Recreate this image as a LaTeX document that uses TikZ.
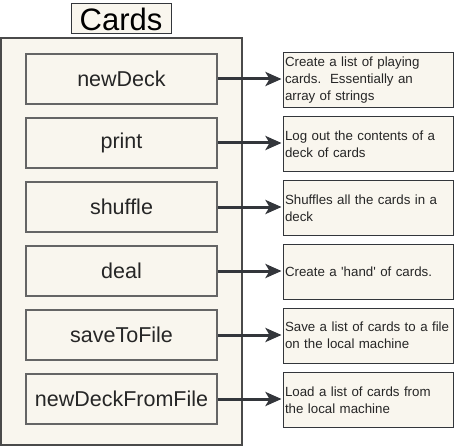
\documentclass[tikz,border=0pt]{standalone}
\usepackage{fontspec}
\setmainfont{Liberation Sans}
\usetikzlibrary{arrows.meta}
\definecolor{cream}{HTML}{F9F6EE}
\definecolor{edge}{HTML}{4A4A4A}
\definecolor{ink}{HTML}{33363B}
\tikzset{
  titlebox/.style={draw=ink, line width=1pt, fill=cream, minimum width=100pt, minimum height=30pt,
    inner sep=0pt, font=\fontsize{31}{32}\selectfont},
  container/.style={draw=edge, line width=2pt, fill=cream, minimum width=241pt, minimum height=406pt, inner sep=0pt},
  method/.style={draw=edge!85, line width=2pt, fill=cream, minimum width=191pt, minimum height=50pt,
    inner sep=0pt, font=\fontsize{21.5}{24}\selectfont, text=black!85},
  note/.style={draw=ink, line width=1pt, fill=cream, minimum height=55pt, text width=166pt,
    inner xsep=2pt, inner ysep=0pt, align=left, font=\fontsize{13.3}{16.8}\selectfont, text=black!85},
  link/.style={draw=ink, line width=3pt, -{Stealth[length=16pt,width=14pt,inset=4pt]}, shorten >=1pt},
}
\begin{document}
\begin{tikzpicture}[x=1pt,y=-1pt]
  \useasboundingbox (0,0) rectangle (454,446);
  \node[titlebox] (title) at (121,19) {Cards};
  \node[container] (box) at (121.5,241.5) {};
  % methods of the Cards type
  \node[method] (m1) at (121.5,79)  {newDeck};
  \node[method] (m2) at (121.5,143) {print};
  \node[method] (m3) at (121.5,207) {shuffle};
  \node[method] (m4) at (121.5,271) {deal};
  \node[method] (m5) at (121.5,335) {saveToFile};
  \node[method] (m6) at (121.5,399) {newDeckFromFile};
  % descriptions
  \node[note] (d1) at (368,80)    {Create a list of playing\\cards.\ \ Essentially an\\array of strings};
  \node[note] (d2) at (368,144.5) {Log out the contents of a\\deck of cards};
  \node[note] (d3) at (368,208)   {Shuffles all the cards in a\\deck};
  \node[note] (d4) at (368,271.5) {Create a \textquotesingle hand\textquotesingle{} of cards.};
  \node[note] (d5) at (368,335.5) {Save a list of cards to a file\\on the local machine};
  \node[note] (d6) at (368,400)   {Load a list of cards from\\the local machine};
  \foreach \i in {1,...,6} {
    \draw[link] (m\i.east) -- (m\i.east -| d\i.west);
  }
\end{tikzpicture}
\end{document}
